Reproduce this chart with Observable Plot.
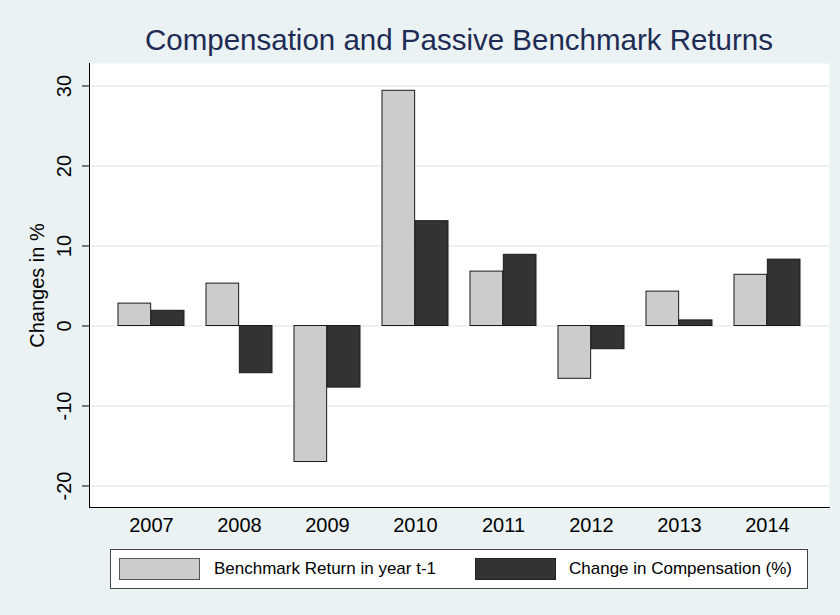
<!DOCTYPE html>
<html><head><meta charset="utf-8">
<script src="https://cdn.jsdelivr.net/npm/d3@7"></script>
<script src="https://cdn.jsdelivr.net/npm/@observablehq/plot@0.6"></script>
<style>
html,body{margin:0;padding:0;background:#EAF2F3;}
#wrap{position:relative;width:840px;height:615px;background:#EAF2F3;font-family:"Liberation Sans",Arial,sans-serif;overflow:hidden;color:#000}
#title{position:absolute;left:89px;width:740px;top:25px;text-align:center;font-size:29.5px;line-height:30px;color:#1e2c55;white-space:nowrap}
#chart{position:absolute;left:0;top:63px}
#legend{position:absolute;left:110px;top:549px;width:696px;height:38px;background:#fff;border:1px solid #444;}
.sw{position:absolute;top:8px;width:81px;height:22px;box-sizing:border-box;border:1px solid #555}
.lt{position:absolute;top:10px;font-size:17px;line-height:17px;white-space:nowrap}
</style>
</head><body>
<div id="wrap">
  <div id="title"></div>
  <div id="chart"></div>
  <div id="legend"></div>
</div>
<script>
const titleText = "Compensation and Passive Benchmark Returns";
const yLabel = "Changes in %";
const years = ["2007","2008","2009","2010","2011","2012","2013","2014"];
const benchmark = [2.8, 5.3, -17.0, 29.4, 6.8, -6.6, 4.3, 6.4];
const compensation = [1.9, -5.9, -7.7, 13.1, 8.9, -2.9, 0.7, 8.3];
const yTicks = [-20, -10, 0, 10, 20, 30];
const seriesNames = ["Benchmark Return in year t-1", "Change in Compensation (%)"];
const seriesColors = ["#cccccc", "#333333"];

document.getElementById("title").textContent = titleText;

const W = 840, H = 482, mL = 89, mR = 11, mT = 0, mB = 38;
const pIn = 0.245, pOut = 0.31;
const step = (W - mL - mR) / (years.length - pIn + 2 * pOut);
const half = step * (1 - pIn) / 2;

const benchData = years.map((y, i) => ({year: y, value: benchmark[i]}));
const compData = years.map((y, i) => ({year: y, value: compensation[i]}));

const chart = Plot.plot({
  width: W, height: H,
  marginLeft: mL, marginRight: mR, marginTop: mT, marginBottom: mB,
  style: {background: "transparent", fontFamily: "'Liberation Sans', Arial, sans-serif", color: "#000"},
  x: {type: "band", domain: years, paddingInner: pIn, paddingOuter: pOut, axis: null},
  y: {domain: [-22.6875, 32.8125], axis: null},
  marks: [
    Plot.frame({fill: "white", stroke: "none"}),
    Plot.gridY(yTicks, {stroke: "#E6EEF1", strokeOpacity: 1, strokeWidth: 1.5}),
    Plot.barY(benchData, {x: "year", y: "value", fill: seriesColors[0], stroke: "#1a1a1a", strokeWidth: 1, insetLeft: 0, insetRight: half}),
    Plot.barY(compData, {x: "year", y: "value", fill: seriesColors[1], stroke: "#1a1a1a", strokeWidth: 1, insetLeft: half, insetRight: 0}),
    Plot.frame({anchor: "left", stroke: "#000"}),
    Plot.frame({anchor: "bottom", stroke: "#000"}),
    Plot.axisY({ticks: yTicks, tickSize: 7, tickFormat: () => "", label: null, stroke: "#000"}),
    Plot.text(yTicks, {y: d => d, text: d => String(d), frameAnchor: "left", textAnchor: "middle", dx: -25, rotate: -90, fontSize: 20, fill: "#000"}),
    Plot.text([yLabel], {frameAnchor: "left", textAnchor: "middle", dx: -52, rotate: -90, fontSize: 20, fill: "#000"}),
    Plot.text(years, {x: d => d, text: d => d, frameAnchor: "bottom", dy: 10, lineAnchor: "top", fontSize: 20, fill: "#000"})
  ]
});
document.getElementById("chart").appendChild(chart);

const legend = document.getElementById("legend");
const swLeft = [8, 364], txLeft = [103, 458];
seriesNames.forEach((name, i) => {
  const sw = document.createElement("div");
  sw.className = "sw";
  sw.style.left = swLeft[i] + "px";
  sw.style.background = seriesColors[i];
  if (i === 1) sw.style.borderColor = "#222";
  legend.appendChild(sw);
  const t = document.createElement("div");
  t.className = "lt";
  t.style.left = txLeft[i] + "px";
  t.textContent = name;
  legend.appendChild(t);
});
</script>
</body></html>
